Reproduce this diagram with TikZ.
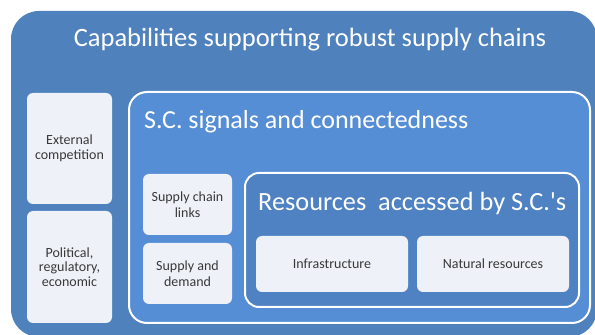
\documentclass[tikz,border=0pt]{standalone}
\usepackage{fontspec}
\setmainfont{Carlito}
\definecolor{outerblue}{HTML}{4F81BD}
\definecolor{scblue}{HTML}{558ED5}
\definecolor{resblue}{HTML}{4E82C2}
\definecolor{boxfill}{HTML}{EEF2F8}
\begin{document}
\begin{tikzpicture}[x=1pt, y=1pt,
  box/.style={fill=boxfill, rounded corners=6pt, align=center, text=black!78, font=\fontsize{14}{15.5}\selectfont, inner sep=0pt},
  sidebox/.style={box, font=\fontsize{14}{14.5}\selectfont},
  frame/.style={draw=white, line width=2pt},
  head/.style={text=white, inner sep=0pt}]
\useasboundingbox (0,0) rectangle (595,335);
\clip (0,0) rectangle (595,335);
\fill[outerblue, rounded corners=28pt] (11,-2) rectangle (597,324);
\node[head, font=\fontsize{26.5}{30}\selectfont] (cap) at (310,295) {Capabilities supporting robust supply chains};
\node[sidebox, minimum width=85pt, minimum height=111pt] (ext) at (69.5,186.5) {External\\competition};
\node[sidebox, minimum width=85pt, minimum height=112pt] (pol) at (69.5,68) {Political,\\regulatory,\\economic};
\draw[frame, fill=scblue, rounded corners=18pt] (129,12) rectangle (590,243);
\node[head, anchor=west, font=\fontsize{26}{30}\selectfont] (sc) at (144,213) {S.C. signals and connectedness};
\node[box, minimum width=89pt, minimum height=61pt] (links) at (187.5,130.5) {Supply chain\\links};
\node[box, minimum width=89pt, minimum height=61pt] (sd) at (187.5,61.5) {Supply and\\demand};
\draw[frame, fill=resblue, rounded corners=14pt] (245,28) rectangle (579,162);
\node[head, anchor=west, font=\fontsize{26.3}{30}\selectfont] (res) at (258,132) {Resources\ \ accessed by S.C.\textquotesingle s};
\node[box, minimum width=152pt, minimum height=56pt] (infra) at (332,71) {Infrastructure};
\node[box, minimum width=152pt, minimum height=56pt] (nat) at (493,71) {Natural resources};
\end{tikzpicture}
\end{document}
